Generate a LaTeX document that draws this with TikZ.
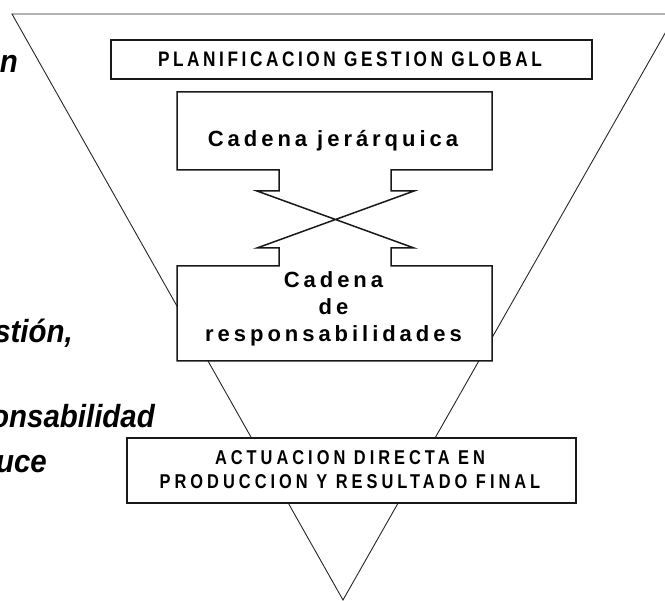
\documentclass[tikz,border=0pt]{standalone}
\usepackage{fontspec}
\newfontfamily\narrowfont{Liberation Sans}[FakeStretch=0.82,LetterSpace=20]
\newfontfamily\planfont{Liberation Sans}[FakeStretch=0.82,LetterSpace=17]
\newfontfamily\widefont{Liberation Sans}[LetterSpace=18]
\newfontfamily\slantfont{Liberation Sans}[FakeStretch=0.92]
\tikzset{
  tri/.style={draw=black!85, line width=0.9pt},
  boxline/.style={draw=black!90, line width=1.5pt, fill=white},
  box/.style={boxline, rectangle, inner sep=0pt},
  capstext/.style={inner sep=0pt, anchor=base, font=\narrowfont\bfseries\fontsize{20}{24}\selectfont},
  chaintext/.style={inner sep=0pt, anchor=base, font=\widefont\bfseries\fontsize{22}{26}\selectfont},
  sidetext/.style={inner sep=0pt, anchor=base east, font=\slantfont\bfseries\itshape\fontsize{32}{38}\selectfont}
}
\begin{document}
\begin{tikzpicture}[x=1pt,y=-1pt]
\useasboundingbox (0,0) rectangle (665,601);
\clip (0,0) rectangle (665,601);
% inverted triangle
\coordinate (tl) at (12,14);
\coordinate (tr) at (676,14);
\coordinate (apex) at (343,600);
\draw[tri] (tl) -- (tr) -- (apex) -- cycle;
% left side texts (cut by the picture edge, as in the reference)
\node[sidetext] (s1) at (18,73) {n};
\node[sidetext] (s2) at (73,343) {stión,};
\node[sidetext] (s3) at (155,428) {onsabilidad};
\node[sidetext] (s4) at (47,473) {uce};
% top box
\node[box, minimum width=481pt, minimum height=39pt] (plan) at (351.5,59.5) {};
\node[capstext, font=\planfont\bfseries\fontsize{21}{25}\selectfont] (plantxt) at (350,67) {PLANIFICACION GESTION GLOBAL};
% chain boxes with crossed links
\draw[boxline, line join=miter]
  (257,191) -- (279,191) -- (279,170) -- (177,170) -- (177,92) -- (492,92)
  -- (492,170) -- (391,170) -- (391,191) -- (414,191) -- (257,248)
  -- (279,248) -- (279,266) -- (177,266) -- (177,361) -- (492,361)
  -- (492,266) -- (391,266) -- (391,248) -- (414,248) -- cycle;
\node[chaintext] (jer) at (333,147) {Cadena jerárquica};
\node[chaintext] (res1) at (333.5,288) {Cadena};
\node[chaintext] (res2) at (333.5,315) {de};
\node[chaintext] (res3) at (333.5,342) {responsabilidades};
% bottom box
\node[box, minimum width=449pt, minimum height=65pt] (act) at (351.5,470.5) {};
\node[capstext] (act1) at (350,465) {ACTUACION DIRECTA EN};
\node[capstext] (act2) at (350,489) {PRODUCCION Y RESULTADO FINAL};
\end{tikzpicture}
\end{document}
